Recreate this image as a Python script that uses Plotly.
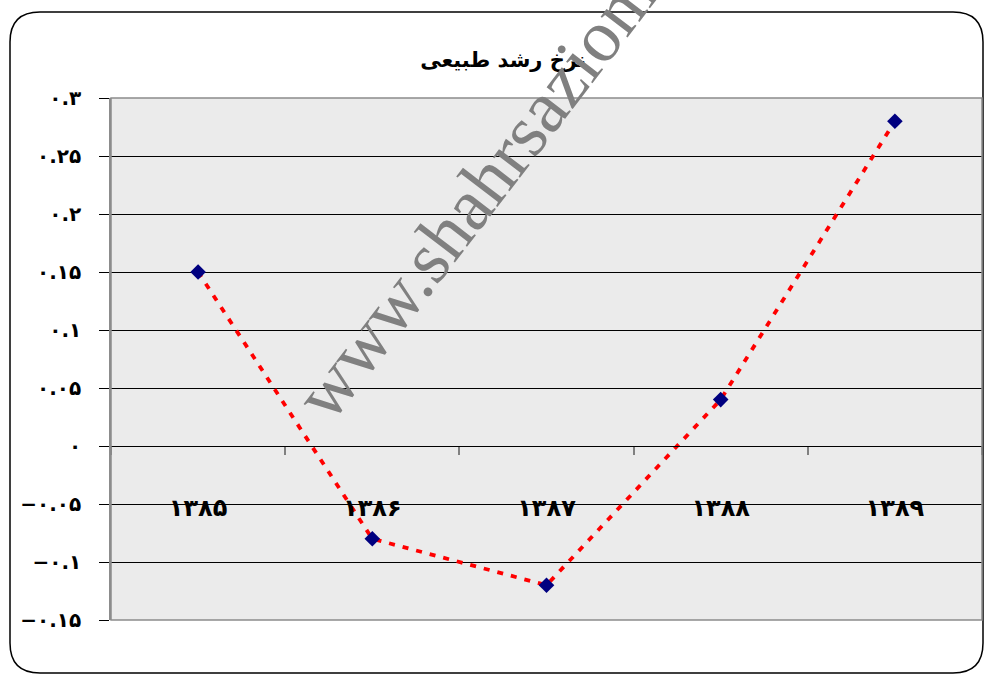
import plotly.graph_objects as go

years = ["۱۳۸۵", "۱۳۸۶", "۱۳۸۷", "۱۳۸۸", "۱۳۸۹"]
growth = [0.15, -0.08, -0.12, 0.04, 0.28]
y_tick_vals = [-0.15, -0.1, -0.05, 0, 0.05, 0.1, 0.15, 0.2, 0.25, 0.3]
y_tick_text = ["−۰.۱۵", "−۰.۱", "−۰.۰۵", "۰", "۰.۰۵", "۰.۱", "۰.۱۵", "۰.۲", "۰.۲۵", "۰.۳"]
title_text = "نرخ رشد طبیعی"
watermark = "www.shahrsazionline.com"

W, H = 984, 675
L, T = 111, 98
PW, PH = 871, 522
R, B = W - L - PW, H - T - PH


def px(xp):
    return (xp - L) / PW


def py(yp):
    return (T + PH - yp) / PH


fig = go.Figure()
fig.add_trace(go.Scatter(
    x=years, y=growth, mode="lines+markers",
    line=dict(color="#ff0000", width=3.8, dash="6px,8px"),
    marker=dict(symbol="diamond", size=12, color="#000080"),
    showlegend=False,
))

# rounded outer border (pixel coordinates converted to paper)
x0, x1, y0, y1, r = 10, 983, 12, 673, 30
path = (
    f"M {px(x0 + r)},{py(y0)} L {px(x1 - r)},{py(y0)} "
    f"Q {px(x1)},{py(y0)} {px(x1)},{py(y0 + r)} "
    f"L {px(x1)},{py(y1 - r)} Q {px(x1)},{py(y1)} {px(x1 - r)},{py(y1)} "
    f"L {px(x0 + r)},{py(y1)} Q {px(x0)},{py(y1)} {px(x0)},{py(y1 - r)} "
    f"L {px(x0)},{py(y0 + r)} Q {px(x0)},{py(y0)} {px(x0 + r)},{py(y0)} Z"
)
fig.add_shape(type="path", path=path, xref="paper", yref="paper",
              line=dict(color="black", width=1.5), layer="above")
# plot area border
fig.add_shape(type="rect", xref="paper", yref="paper", x0=0, x1=1, y0=0, y1=1,
              line=dict(color="#8c8c8c", width=1.5), layer="above")

fig.add_annotation(
    text=watermark, xref="paper", yref="paper",
    x=px(548), y=py(100), xanchor="center", yanchor="middle",
    textangle=-52.5, showarrow=False,
    font=dict(family="Liberation Serif", size=74, color="#808080"),
)

fig.update_layout(
    width=W, height=H,
    margin=dict(l=L, r=R, t=T, b=B),
    paper_bgcolor="white",
    plot_bgcolor="#ebebeb",
    title=dict(text=title_text, x=503 / W, xref="container", xanchor="center",
               y=1 - 60 / H, yref="container", yanchor="middle",
               font=dict(family="DejaVu Sans", size=21, color="black", weight="bold")),
    xaxis=dict(
        type="category", anchor="free", position=1 / 3, range=[-0.5, 4.5],
        showline=True, linecolor="black", linewidth=1,
        ticks="outside", tickson="boundaries", ticklen=8, tickcolor="#808080", tickwidth=2,
        showgrid=False, ticklabelstandoff=40,
        tickfont=dict(family="DejaVu Sans", size=24, color="black", weight="bold"),
    ),
    yaxis=dict(
        range=[-0.15, 0.3], tickvals=y_tick_vals, ticktext=y_tick_text,
        showgrid=True, gridcolor="black", gridwidth=1,
        zeroline=False,
        showline=True, linecolor="#8c8c8c", linewidth=1.5,
        ticks="outside", ticklen=10, tickcolor="black", tickwidth=1,
        ticklabelstandoff=14,
        tickfont=dict(family="DejaVu Sans", size=20, color="black", weight="bold"),
    ),
)

fig.write_html(
    "out.html",
    config={"displayModeBar": False},
    post_script="document.body.style.margin='0';document.body.style.padding='0';"
                "document.documentElement.style.overflow='hidden';",
)
